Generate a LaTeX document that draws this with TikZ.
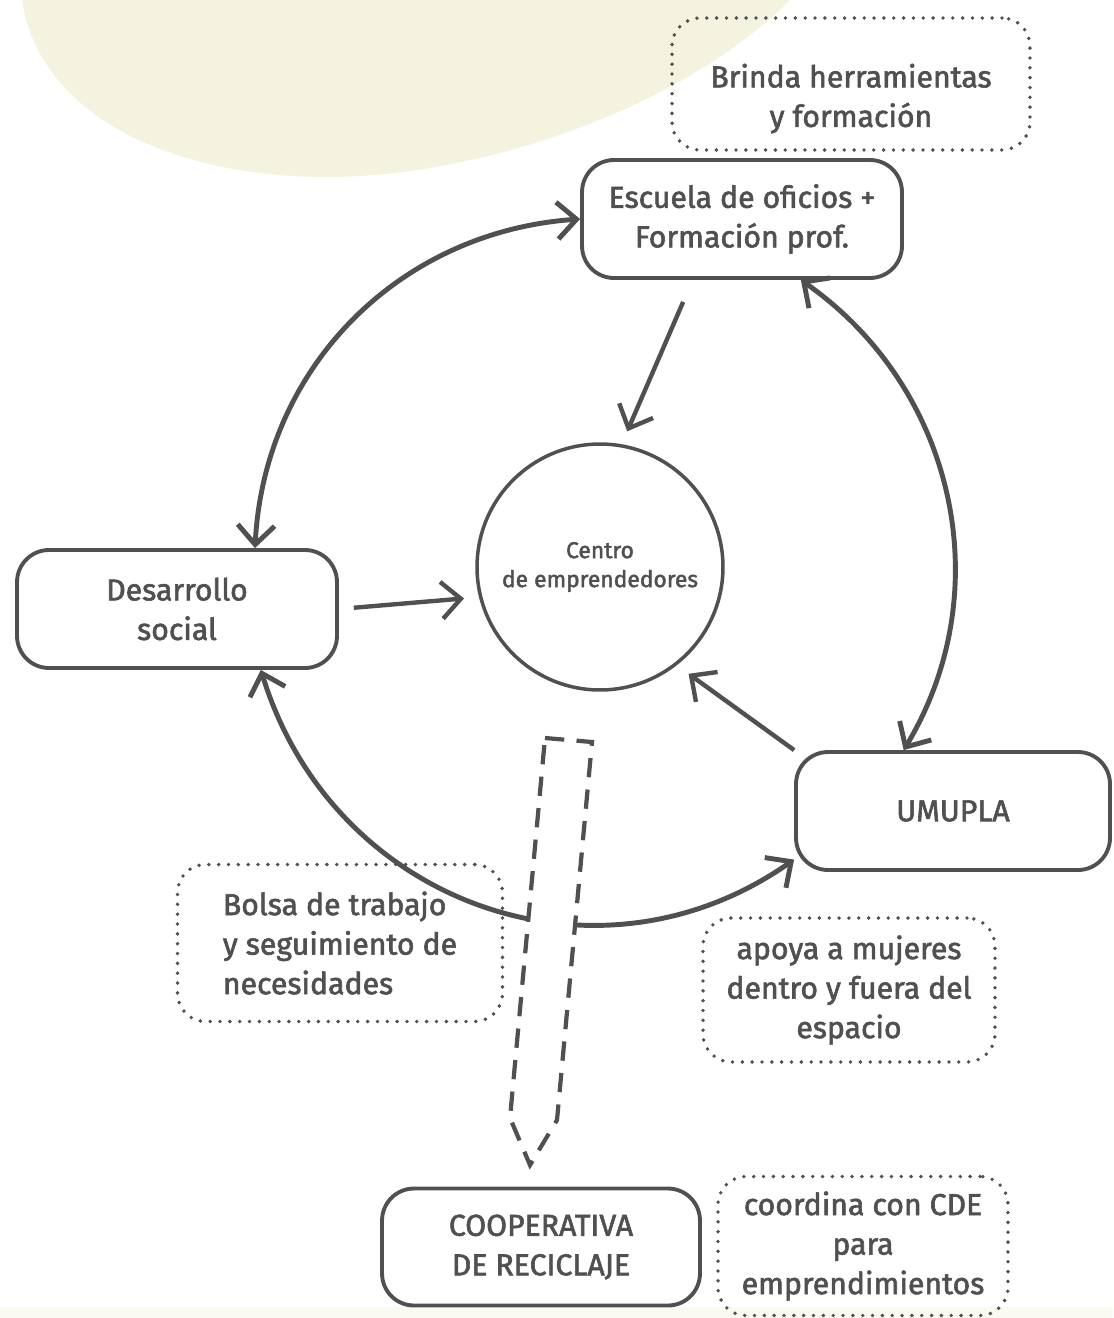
\documentclass[tikz,border=0pt]{standalone}
\usepackage{fontspec}
\setmainfont{Fira Sans}[FakeBold=2]
\usepackage{tikz}
\usetikzlibrary{arrows.meta}
\definecolor{inkgray}{RGB}{80,80,80}
\definecolor{paleolive}{RGB}{244,243,223}

\begin{document}
\begin{tikzpicture}[x=0.02cm,y=0.02cm,
    box/.style={draw=inkgray,line width=2.2pt,rounded corners=0.64cm,fill=white,
      align=center,text=inkgray,font=\fontsize{17.2}{22.5}\selectfont},
    note/.style={draw=inkgray,line width=2.2pt,dash pattern=on 0pt off 5.6pt,line cap=round,
      rounded corners=0.56cm,align=center,text=inkgray,font=\fontsize{17.2}{22.5}\selectfont},
    link/.style={draw=inkgray,line width=2.8pt,
      {Straight Barb[length=11pt,width=21pt]}-{Straight Barb[length=11pt,width=21pt]}},
    arr/.style={draw=inkgray,line width=2.5pt,-{Straight Barb[length=11pt,width=21pt]}},
    pencil/.style={draw=inkgray,line width=2.4pt,dash pattern=on 11pt off 7pt,fill=white}]
	\useasboundingbox (0,0) rectangle (1113,-1318);
	
	% background
	\fill[paleolive] (22,0) .. controls (40,-120) and (180,-178) .. (330,-177)
	  .. controls (480,-176) and (680,-110) .. (790,0) -- cycle;
	\fill[paleolive!40] (0,-1307) rectangle (1113,-1318);
	
	% nodes
	\node[note,minimum width=7.16cm,minimum height=2.64cm] (brinda) at (851,-84) {\rule{0pt}{30pt}Brinda herramientas\\y formación};
	\node[box,minimum width=6.4cm,minimum height=2.36cm] (esc) at (742,-219) {Escuela de oficios +\\Formación prof.};
	\node[draw=inkgray,line width=2pt,circle,minimum size=4.92cm,inner sep=0pt,text=inkgray,
	  align=center,font=\fontsize{13}{16.5}\selectfont] (cen) at (600,-567) {Centro\\de emprendedores};
	\node[box,minimum width=6.4cm,minimum height=2.36cm] (des) at (177,-609) {Desarrollo\\social};
	\node[box,minimum width=6.28cm,minimum height=2.36cm] (umu) at (953,-811) {UMUPLA};
	\node[note,align=left,minimum width=6.5cm,minimum height=3.14cm] (bolsa) at (340,-943) {Bolsa de trabajo\\y seguimiento de\\necesidades};
	\node[note,minimum width=5.84cm,minimum height=2.88cm] (apoya) at (849,-990) {apoya a mujeres\\dentro y fuera del\\espacio};
	\node[box,minimum width=6.36cm,minimum height=2.34cm] (coop) at (541,-1247) {COOPERATIVA\\DE RECICLAJE};
	\node[note,minimum width=5.8cm,minimum height=2.78cm] (coord) at (863,-1246) {coordina con CDE\\para\\emprendimientos};
	
	% ring
	\draw[link] (des.38) to[out=87,in=184] (esc.west);
	\draw[link] (esc.-46) to[out=-35,in=59] (umu.129);
	\draw[link] (des.-36) to[out=-73,in=215,looseness=1.1] (umu.197);
	
	% into the centre
	\draw[arr,shorten <=0.48cm,shorten >=0.28cm] (esc.231) -- (cen.80);
	\draw[arr,shorten <=0.3cm,shorten >=0.3cm] (des.east) -- (cen.194);
	\draw[arr,shorten >=0.29cm] (umu.north west) -- (cen.-52);
	
	% dashed pencil down to the cooperative
	\draw[pencil] (545,-738) -- (592,-742) -- (557,-1120) -- (530,-1165) -- (510,-1118) -- cycle;
\end{tikzpicture}
\end{document}
